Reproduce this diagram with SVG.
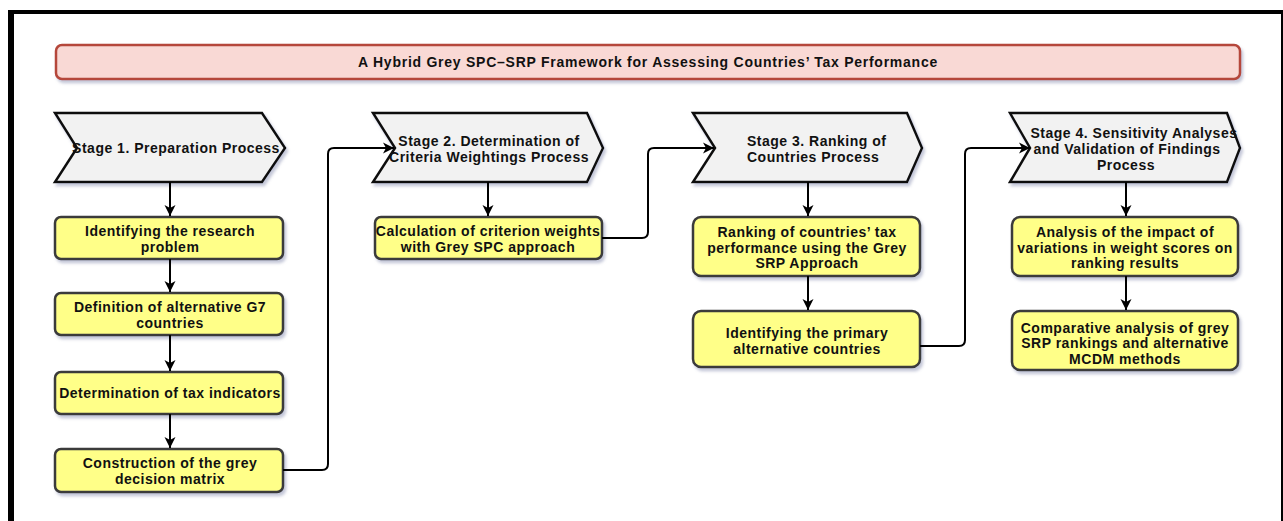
<svg xmlns="http://www.w3.org/2000/svg" width="1283" height="521" viewBox="0 0 1283 521">
<defs>
<style>
.t{font-family:"Liberation Sans",Arial,sans-serif;font-weight:bold;font-size:14px;letter-spacing:0.5px;fill:#111;text-anchor:middle}
.chev{fill:#f2f2f2;stroke:#111;stroke-width:2.5;stroke-linejoin:miter}
.box{fill:#ffff88;stroke:#3a3a3a;stroke-width:2.5}
.con{fill:none;stroke:#000;stroke-width:2}
</style>
<filter id="sh" x="-10%" y="-10%" width="120%" height="140%">
<feDropShadow dx="2" dy="3" stdDeviation="1.5" flood-color="#7a82a8" flood-opacity="0.45"/>
</filter>
<marker id="ah" markerUnits="userSpaceOnUse" markerWidth="13" markerHeight="13" refX="11" refY="6.5" orient="auto">
<path d="M0,1 L11,6.5 L0,12 L3,6.5 z" fill="#000"/>
</marker>
</defs>
<rect width="1283" height="521" fill="#fff"/>
<g id="frame">
<line x1="8" y1="12" x2="1283" y2="12" stroke="#000" stroke-width="4"/>
<line x1="11" y1="10" x2="11" y2="521" stroke="#000" stroke-width="6"/>
<line x1="1282" y1="10" x2="1282" y2="521" stroke="#000" stroke-width="2"/>
</g>
<g id="title">
<rect x="56" y="45" width="1184" height="34" rx="6" fill="#f9d9d5" stroke="#b5473a" stroke-width="2.5" filter="url(#sh)"/>
<text class="t" x="648" y="67" style="letter-spacing:0.75px">A Hybrid Grey SPC–SRP Framework for Assessing Countries’ Tax Performance</text>
</g>
<g id="stage1">
<path class="chev" filter="url(#sh)" d="M55,113 H262 L285,148 L262,182 H55 L77,148 Z"/>
<text class="t" x="176" y="153">Stage 1. Preparation Process</text>
</g>
<g id="stage2">
<path class="chev" filter="url(#sh)" d="M373,113 H587 L603,148 L587,182 H373 L395,148 Z"/>
<text class="t" x="489" y="146">Stage 2. Determination of</text>
<text class="t" x="489" y="162">Criteria Weightings Process</text>
</g>
<g id="stage3">
<path class="chev" filter="url(#sh)" d="M693,113 H907 L922,148 L907,182 H693 L715,148 Z"/>
<text class="t" x="747" y="146" style="text-anchor:start">Stage 3. Ranking of</text>
<text class="t" x="747" y="162" style="text-anchor:start">Countries Process</text>
</g>
<g id="stage4">
<path class="chev" filter="url(#sh)" d="M1010,113 H1227 L1240,148 L1227,182 H1010 L1030,148 Z"/>
<text class="t" x="1134" y="138">Stage 4. Sensitivity Analyses</text>
<text class="t" x="1127" y="154">and Validation of Findings</text>
<text class="t" x="1126" y="170">Process</text>
</g>
<g id="n1a">
<rect class="box" filter="url(#sh)" x="55" y="217" width="228" height="42" rx="6"/>
<text class="t" x="170" y="236">Identifying the research</text>
<text class="t" x="170" y="252">problem</text>
</g>
<g id="n1b">
<rect class="box" filter="url(#sh)" x="55" y="293" width="228" height="42" rx="6"/>
<text class="t" x="170" y="312">Definition of alternative G7</text>
<text class="t" x="170" y="328">countries</text>
</g>
<g id="n1c">
<rect class="box" filter="url(#sh)" x="55" y="372" width="228" height="42" rx="6"/>
<text class="t" x="170" y="398">Determination of tax indicators</text>
</g>
<g id="n1d">
<rect class="box" filter="url(#sh)" x="55" y="449" width="228" height="43" rx="6"/>
<text class="t" x="170" y="468">Construction of the grey</text>
<text class="t" x="170" y="484">decision matrix</text>
</g>
<g id="n2a">
<rect class="box" filter="url(#sh)" x="375" y="217" width="227" height="42" rx="6"/>
<text class="t" x="488" y="236">Calculation of criterion weights</text>
<text class="t" x="488" y="252">with Grey SPC approach</text>
</g>
<g id="n3a">
<rect class="box" filter="url(#sh)" x="693" y="217" width="227" height="59" rx="8"/>
<text class="t" x="807" y="237">Ranking of countries’ tax</text>
<text class="t" x="807" y="253">performance using the Grey</text>
<text class="t" x="807" y="268">SRP Approach</text>
</g>
<g id="n3b">
<rect class="box" filter="url(#sh)" x="693" y="311" width="227" height="56" rx="8"/>
<text class="t" x="807" y="338">Identifying the primary</text>
<text class="t" x="807" y="354">alternative countries</text>
</g>
<g id="n4a">
<rect class="box" filter="url(#sh)" x="1012" y="217" width="226" height="59" rx="8"/>
<text class="t" x="1125" y="237">Analysis of the impact of</text>
<text class="t" x="1125" y="253">variations in weight scores on</text>
<text class="t" x="1125" y="268">ranking results</text>
</g>
<g id="n4b">
<rect class="box" filter="url(#sh)" x="1012" y="311" width="226" height="59" rx="8"/>
<text class="t" x="1125" y="333">Comparative analysis of grey</text>
<text class="t" x="1125" y="348">SRP rankings and alternative</text>
<text class="t" x="1125" y="364">MCDM methods</text>
</g>
<g id="connectors">
<path class="con" marker-end="url(#ah)" d="M170,182 V216"/>
<path class="con" marker-end="url(#ah)" d="M170,259 V292"/>
<path class="con" marker-end="url(#ah)" d="M170,335 V371"/>
<path class="con" marker-end="url(#ah)" d="M170,414 V448"/>
<path class="con" marker-end="url(#ah)" d="M488,182 V216"/>
<path class="con" marker-end="url(#ah)" d="M808,182 V216"/>
<path class="con" marker-end="url(#ah)" d="M808,276 V310"/>
<path class="con" marker-end="url(#ah)" d="M1126,182 V216"/>
<path class="con" marker-end="url(#ah)" d="M1126,276 V310"/>
<path class="con" marker-end="url(#ah)" d="M283,470 H322 Q328,470 328,464 V154 Q328,148 334,148 H394"/>
<path class="con" marker-end="url(#ah)" d="M602,238 H642 Q648,238 648,232 V154 Q648,148 654,148 H714"/>
<path class="con" marker-end="url(#ah)" d="M920,346 H959 Q965,346 965,340 V154 Q965,148 971,148 H1030"/>
</g>
</svg>
